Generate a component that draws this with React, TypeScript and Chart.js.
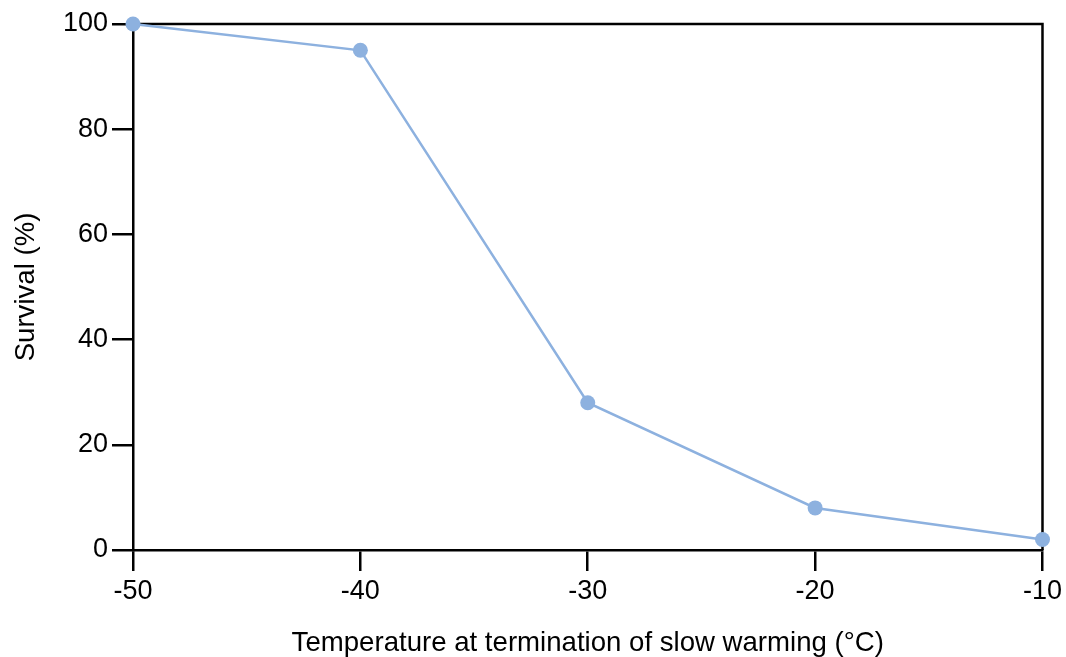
import React, { useEffect, useRef } from "react";
import { Chart, registerables } from "chart.js";

Chart.register(...registerables);

const temperatures = [-50, -40, -30, -20, -10];
const survival = [100, 95, 28, 8, 2];
const xTicks = [-50, -40, -30, -20, -10];
const yTicks = [0, 20, 40, 60, 80, 100];

const FONT = "'Liberation Sans', Arial, Helvetica, sans-serif";

const boxPlugin = {
  id: "box",
  beforeDatasetsDraw(chart: any) {
    const { ctx, chartArea } = chart;
    ctx.save();
    ctx.strokeStyle = "#000";
    ctx.lineWidth = 2.5;
    ctx.beginPath();
    ctx.moveTo(chartArea.left, chartArea.top);
    ctx.lineTo(chartArea.right, chartArea.top);
    ctx.lineTo(chartArea.right, chartArea.bottom);
    ctx.stroke();
    ctx.restore();
  },
};

export default function App() {
  const ref = useRef<HTMLCanvasElement>(null);
  useEffect(() => {
    if (!ref.current) return;
    const chart = new Chart(ref.current, {
      type: "line",
      data: {
        datasets: [
          {
            data: temperatures.map((t, i) => ({ x: t, y: survival[i] })),
            borderColor: "#8DB1DF",
            backgroundColor: "#8DB1DF",
            borderWidth: 2.5,
            pointRadius: 7.5,
            pointHoverRadius: 7.5,
            pointBorderWidth: 0,
            tension: 0,
            clip: false as any,
          },
        ],
      },
      options: {
        responsive: false,
        animation: false,
        layout: { padding: { top: 24, right: 23, left: 0, bottom: 0 } },
        plugins: { legend: { display: false }, tooltip: { enabled: false } },
        scales: {
          x: {
            type: "linear",
            min: -50,
            max: -10,
            afterBuildTicks: (s: any) => {
              s.ticks = xTicks.map((v) => ({ value: v }));
            },
            afterFit: (s: any) => {
              s.height = 107;
            },
            grid: {
              drawOnChartArea: false,
              color: "#000",
              lineWidth: 2.5,
              tickLength: 21,
              tickWidth: 2.5,
            },
            border: { color: "#000", width: 2.5 },
            ticks: {
              color: "#000",
              font: { family: FONT, size: 27 },
              padding: 4,
              maxRotation: 0,
            },
            title: {
              display: true,
              text: "Temperature at termination of slow warming (°C)",
              color: "#000",
              font: { family: FONT, size: 27.6, lineHeight: 1 },
              padding: { top: 0, bottom: 0 },
            },
          },
          y: {
            type: "linear",
            min: 0,
            max: 100,
            afterBuildTicks: (s: any) => {
              s.ticks = yTicks.map((v) => ({ value: v }));
            },
            afterFit: (s: any) => {
              s.width = 133;
            },
            grid: {
              drawOnChartArea: false,
              color: "#000",
              lineWidth: 2.5,
              tickLength: 21,
              tickWidth: 2.5,
            },
            border: { color: "#000", width: 2.5 },
            ticks: {
              color: "#000",
              font: { family: FONT, size: 27 },
              padding: 4,
            },
            title: {
              display: true,
              text: "Survival (%)",
              color: "#000",
              font: { family: FONT, size: 27.6 },
              padding: { top: 10, bottom: 0 },
            },
          },
        },
      },
      plugins: [boxPlugin],
    });
    return () => chart.destroy();
  }, []);
  return (
    <div style={{ position: "fixed", left: 0, top: 0, width: 1066, height: 657, background: "#fff" }}>
      <canvas ref={ref} width={1066} height={657} style={{ display: "block" }} />
    </div>
  );
}
